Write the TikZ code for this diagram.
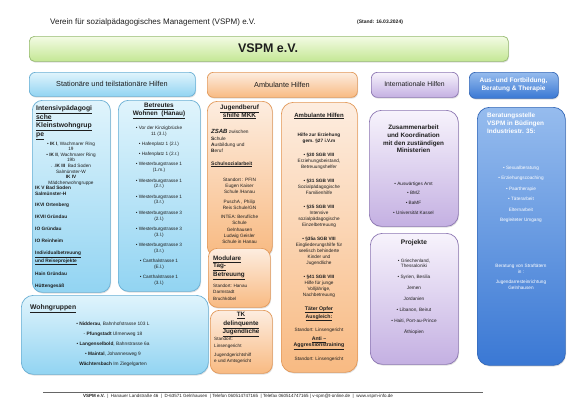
\documentclass[tikz,border=0pt]{standalone}
\usepackage{fontspec}
\setmainfont{Liberation Sans}
\usetikzlibrary{shadows}
\definecolor{blT}{RGB}{224,244,252}
\definecolor{blB}{RGB}{146,212,242}
\definecolor{blD}{RGB}{105,175,212}
\definecolor{orT}{RGB}{253,237,224}
\definecolor{orB}{RGB}{248,186,130}
\definecolor{orD}{RGB}{226,152,88}
\definecolor{lvT}{RGB}{247,243,252}
\definecolor{lvB}{RGB}{196,176,226}
\definecolor{lvD}{RGB}{140,118,178}
\definecolor{dbT}{RGB}{150,188,238}
\definecolor{dbB}{RGB}{58,120,212}
\definecolor{dbD}{RGB}{52,104,184}
\definecolor{grT}{RGB}{243,251,228}
\definecolor{grB}{RGB}{196,231,148}
\definecolor{grD}{RGB}{150,186,112}
\definecolor{txt}{RGB}{30,30,30}
\newcommand{\fs}[2]{\fontsize{#1}{#2}\selectfont}
\newcommand{\ul}[1]{\underline{#1}}
\tikzset{
  common/.style={line width=0.7pt, inner sep=0pt, anchor=north west,
    drop shadow={opacity=0.25, shadow xshift=0.7pt, shadow yshift=-1.2pt}},
  blbox/.style={common, draw=blD, top color=blT, bottom color=blB},
  orbox/.style={common, draw=orD, top color=orT, bottom color=orB},
  lvbox/.style={common, draw=lvD, top color=lvT, bottom color=lvB},
  dbbox/.style={common, draw=dbD, top color=dbT, bottom color=dbB},
  grbox/.style={common, draw=grD, top color=grT, bottom color=grB},
  tc/.style={inner sep=0pt, align=center, anchor=north, text=txt},
  tl/.style={inner sep=0pt, align=left, anchor=north west, text=txt},
  tb/.style={inner sep=0pt, anchor=base west, text=txt},
}
\newcommand{\panel}[7]{%
  \node[#2, rounded corners=#7, minimum width={(#5-#3)*1pt}, minimum height={(#6-#4)*1pt}] (#1) at (#3,#4) {};}
\begin{document}
\begin{tikzpicture}[x=1pt,y=-1pt]
\useasboundingbox[fill=white] (0,0) rectangle (586,415);

% title line
\node[tb, font=\fs{8}{9.6}] (title) at (50,24) {Verein für sozialpädagogisches Management (VSPM) e.V.};
\node[tb, font=\fs{5}{6}\bfseries] (stand) at (357,23.5) {(Stand: 16.03.2024)};

% banner
\panel{vspm}{grbox}{29}{36}{508}{61}{5}
\node[inner sep=0pt, font=\fs{12.5}{14}\bfseries, text=txt] (vspmt) at (268,48.5) {VSPM e.V.};

% column headers
\panel{hstat}{blbox}{29}{72}{195}{96}{6}
\node[inner sep=0pt, font=\fs{7.3}{9}, text=txt] (hstatt) at (112,84) {Stationäre und teilstationäre Hilfen};
\panel{hamb}{orbox}{207}{72}{357}{97}{6}
\node[inner sep=0pt, font=\fs{7.3}{9}, text=txt] (hambt) at (282,84.5) {Ambulante Hilfen};
\panel{hint}{lvbox}{371}{72}{458}{97}{6}
\node[inner sep=0pt, font=\fs{6.8}{8}, text=txt] (hintt) at (414.5,84.5) {Internationale Hilfen};
\panel{haus}{dbbox}{469}{72}{558}{98}{6}
\node[inner sep=0pt, align=center, font=\fs{6.5}{7.8}\bfseries, text=white] (haust) at (513.5,85) {Aus- und Fortbildung,\\Beratung \& Therapie};

% ---------- Stationaere ----------
\panel{ikbox}{blbox}{32}{100}{110}{292}{10}
\node[tl, font=\fs{6.8}{8.6}\bfseries] (iktitle) at (36,105.5)
  {\ul{Intensivpädagogi}\\\ul{sche}\\\ul{Kleinstwohngrup}\\\ul{pe}};
\node[tc, font=\fs{4.7}{5.6}] (ikitems) at (71,141.5)
  {• \textbf{IK I}, Wachmarer Ring\\19\\• \textbf{IK II}, Wachmarer Ring\\19b\\. .\textbf{IK III}\ \ Bad Soden\\Salmünster-W\\\textbf{IK IV}\\Mädchenwohngruppe};
\node[tl, font=\fs{4.8}{5.9}\bfseries] (iklist) at (35,185.5)
  {IK V Bad Soden\\Salmünster-H\\[6pt]IKVI Ortenberg\\[6pt]IKVII Gründau\\[6pt]IO Gründau\\[6pt]IO Reinheim\\[6pt]\ul{Individualbetreuung}\\\ul{und Reiseprojekte}\\[6pt]Hain Gründau\\[6pt]Hüttengesäß};

\panel{bwbox}{blbox}{118}{100}{200}{291}{10}
\node[tc, font=\fs{6.4}{7.8}\bfseries] (bwtitle) at (159,103.3)
  {\ul{Betreutes}\\\ul{Wohnen\ \ (Hanau)}};
\node[tc, font=\fs{4.7}{5.8}] (bwitems) at (159,125.6)
  {• Vor der Kinzigbrücke\\11 (3.l.)\\[4.5pt]• Hafenplatz 1 (2.l.)\\[4.5pt]• Hafenplatz 1 (2.r.)\\[4.5pt]%
   • Westerburgstrasse 1\\(1.m.)\\[4.5pt]• Westerburgstrasse 1\\(2.r.)\\[4.5pt]• Westerburgstrasse 1\\(3.r.)\\[4.5pt]%
   • Westerburgstrasse 3\\(2.l.)\\[4.5pt]• Westerburgstrasse 3\\(3.l.)\\[4.5pt]• Westerburgstrasse 3\\(3.r.)\\[4.5pt]%
   • Canthalstrasse 1\\(E.l.)\\[4.5pt]• Canthalstrasse 1\\(3.l.)};

\panel{wgbox}{blbox}{21}{295}{208}{374}{12}
\node[tb, font=\fs{6.8}{8}\bfseries] (wgtitle) at (30,309) {\ul{Wohngruppen}};
\node[tc, font=\fs{4.8}{5.8}] (wgitems) at (113,321.5)
  {• \textbf{Nidderau}, Bahnhofstrasse 103 L\\[4.2pt]- \textbf{Pfungstadt} Ulmenweg 18\\[4.2pt]%
   • \textbf{Langenselbold}, Bahnstrasse 6a\\[4.2pt]• \textbf{Maintal}, Johannesweg 9\\[4.2pt]\textbf{Wächtersbach} Im Ziegelgarten};

% ---------- Ambulante ----------
\panel{jbbox}{orbox}{207}{101}{272}{256}{10}
\node[tc, font=\fs{6.4}{8}\bfseries] (jbtitle) at (239.5,104.3) {\ul{Jugendberuf}\\\ul{shilfe MKK}};
\node[tl, font=\fs{4.8}{6.3}] (zsab) at (211,129.6)
  {{\fs{6}{6.3}\bfseries\itshape ZSAB} zwischen\\\textbf{S}chule\\\textbf{A}usbildung und\\\textbf{B}eruf};
\node[tb, font=\fs{5}{6}\bfseries] (schulsoz) at (211,165) {\ul{Schulsozialarbeit}};
\node[tc, font=\fs{4.7}{6.2}] (jbitems) at (239.5,177.6)
  {Standort : PFIN\\Eugen Kaiser\\Schule /Hanau\\[3.2pt]PuschA , Philip\\Reis Schule/GN\\[3.2pt]INTEA: Berufliche\\Schule\\Gelnhausen\\Ludwig Geisler\\Schule in Hanau};

\panel{modbox}{orbox}{208}{248}{270}{307}{9}
\node[tl, font=\fs{6.3}{7.6}\bfseries] (modtitle) at (213,255.5) {\ul{Modulare}\\\ul{Tag-}\\\ul{Betreuung}};
\node[tl, font=\fs{4.6}{6.4}] (moditems) at (213,283.7) {Standort: Hanau\\Darmstadt\\Bruchköbel};

\panel{tkbox}{orbox}{210}{310}{272}{373}{9}
\node[tc, font=\fs{6.3}{8.5}\bfseries] (tktitle) at (241,312) {\ul{TK}\\\ul{delinquente}\\\ul{Jugendliche}};
\node[tl, font=\fs{4.6}{6.3}] (tkitems) at (214,337.2) {Standort:\\Linsengericht\\[3pt]Jugendgerichtshilf\\e und Amtsgericht};

\panel{ambbox}{orbox}{281}{102}{357}{372}{12}
\node[inner sep=0pt, anchor=base, font=\fs{6}{7}\bfseries, text=txt] (ambtitle) at (319,117) {\ul{Ambulante Hilfen}};
\node[tc, font=\fs{4.7}{6}] (ambitems) at (319,132.6)
  {\textbf{Hilfe zur Erziehung}\\\textbf{gem. §27 i.V.m}\\[8pt]%
   \textbf{• §30 SGB VIII}\\Erziehungsbeistand,\\Betreuungshelfer\\[8pt]%
   \textbf{• §31 SGB VIII}\\Sozialpädagogische\\Familienhilfe\\[8pt]%
   \textbf{• §35 SGB VIII}\\Intensive\\sozialpädagogische\\Einzelbetreuung\\[8pt]%
   \textbf{• §35a SGB VIII}\\Eingliederungshilfe für\\seelisch behinderte\\Kinder und\\Jugendliche\\[8pt]%
   \textbf{• §41 SGB VIII}\\Hilfe für junge\\Volljährige,\\Nachbetreuung\\[8pt]%
   {\fs{5.2}{6}\bfseries\ul{Täter Opfer}}\\{\fs{5.2}{6}\bfseries\ul{Ausgleich:}}\\[6pt]%
   Standort: Linsengericht\\[3pt]%
   {\fs{5.2}{6}\bfseries\ul{Anti –}}\\{\fs{5.2}{6}\bfseries\ul{Aggressionstraining}}\\[6pt]%
   Standort: Linsengericht};

% ---------- Internationale ----------
\panel{zusbox}{lvbox}{369}{110}{458}{226}{12}
\node[tc, font=\fs{6.3}{7.9}\bfseries] (zustitle) at (413.5,124.5)
  {Zusammenarbeit\\und Koordination\\mit den zuständigen\\Ministerien};
\node[tc, font=\fs{4.7}{9.7}] (zusitems) at (413.5,181.5)
  {• Auswärtiges Amt\\• BMZ\\• BaMF\\• Universität Kassel};

\panel{prjbox}{lvbox}{370}{233}{458}{364}{12}
\node[inner sep=0pt, anchor=base, font=\fs{6.6}{8}\bfseries, text=txt] (prjtitle) at (414,244) {Projekte};
\node[tc, font=\fs{4.7}{5.5}] (prjitems) at (414,258.6)
  {• Griechenland,\\Thessaloniki\\[5.5pt]• Syrien, Besilia\\[5.5pt]Jemen\\[5.5pt]Jordanien\\[5.5pt]%
   • Libanon, Beirut\\[5.5pt]• Haiti, Port-au-Prince\\[5.5pt]Äthiopien};

% ---------- Aus- und Fortbildung ----------
\panel{berbox}{dbbox}{477}{107}{565}{365}{12}
\node[tl, font=\fs{6.4}{8.1}\bfseries, text=white] (bertitle) at (487,112.4)
  {Beratungsstelle\\VSPM in Büdingen\\Industriestr. 35:};
\node[tc, font=\fs{4.7}{10.5}, text=white] (beritems) at (521,165.6)
  {• Sexualberatung\\• Erziehungscoaching\\• Paartherapie\\• Täterarbeit\\Elternarbeit\\Begleiteter Umgang};
\node[tc, font=\fs{4.7}{5.8}, text=white] (berlow) at (521,263.6)
  {Beratung von Straftätern\\in :\\[5pt]Jugendarresteinrichtung\\Gelnhausen};

% ---------- footer ----------
\coordinate (fl) at (43,392);
\coordinate (fr) at (483,392);
\draw[line width=0.4pt, draw=black!60] (fl) -- (fr);
\node[inner sep=0pt, anchor=base, font=\fs{4.5}{5.5}, text=txt] (footer) at (238,397.5)
  {\textbf{VSPM e.V.} \ |\ \ Hanauer Landstraße 46 \ |\ \ D-63571 Gelnhausen \ |\ Telefon 060514747165 \ |\ Telefax 060514747165 |\ v-spm@t-online.de \ |\ \ www.vspm-info.de};
\end{tikzpicture}
\end{document}
